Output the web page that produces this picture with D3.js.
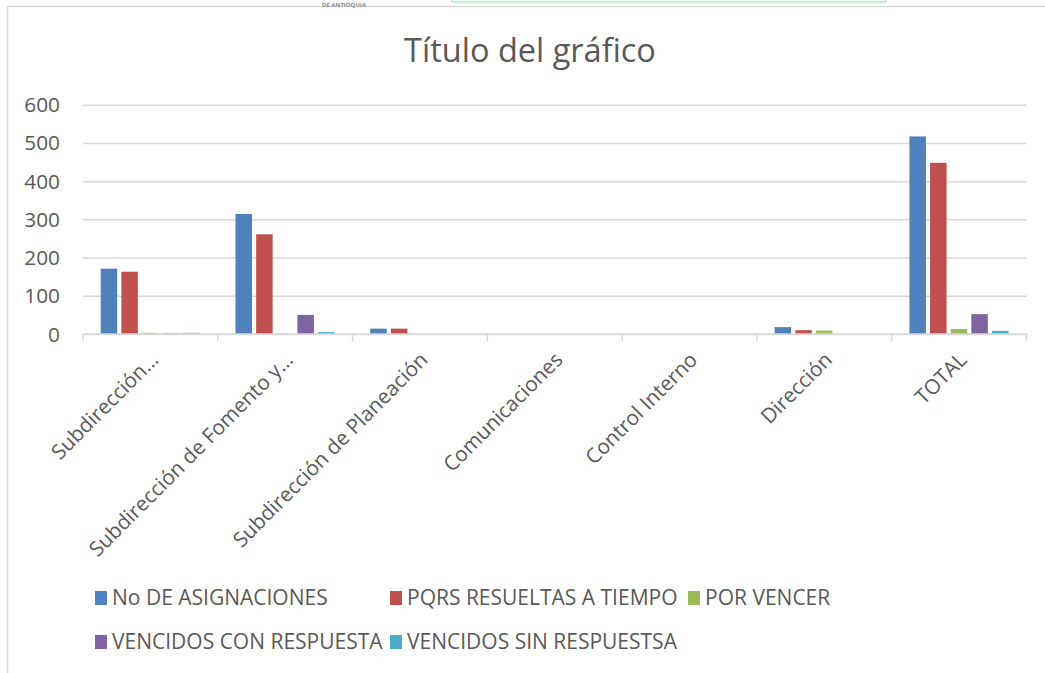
<!DOCTYPE html>
<html><head><meta charset="utf-8">
<script src="https://cdn.jsdelivr.net/npm/d3@7"></script>
<style>
html,body{margin:0;padding:0;background:#fff;}
svg{display:block;font-family:"Open Sans",sans-serif;}
</style></head>
<body>
<svg id="c" width="1045" height="673"></svg>
<script>
const categories = ["Subdirección…","Subdirección de Fomento y…","Subdirección de Planeación","Comunicaciones","Control Interno","Dirección","TOTAL"];
const seriesNames = ["No DE ASIGNACIONES","PQRS RESUELTAS A TIEMPO","POR VENCER","VENCIDOS CON RESPUESTA","VENCIDOS SIN RESPUESTSA"];
const asignaciones = [171,314,14,0,0,18,517];
const resueltas = [163,261,14,0,0,10,448];
const porVencer = [3,1,0,0,0,9,13];
const vencidosCon = [2,50,0,0,0,0,52];
const vencidosSin = [3,5,0,0,0,0,8];
const yTicks = [0,100,200,300,400,500,600];
const colors = ["#4F81BD","#C0504D","#9BBB59","#8064A2","#4BACC6"];
const seriesValues = [asignaciones,resueltas,porVencer,vencidosCon,vencidosSin];

(function(){
const svg = d3.select("#c");
const txt = "#595959", grid = "#d9d9d9";

// chart frame
svg.append("rect").attr("x",7.5).attr("y",6.5).attr("width",1100).attr("height",700)
  .attr("fill","#fff").attr("stroke",grid).attr("stroke-width",1.5);

// page remnants above chart
svg.append("rect").attr("x",452).attr("y",-4).attr("width",434).attr("height",6)
  .attr("fill","#eafaf0").attr("stroke","#9ee0b4").attr("stroke-width",1);
svg.append("text").attr("x",322).attr("y",6.5).attr("font-size",6).attr("font-weight","bold")
  .attr("fill","#888").text("DE ANTIOQUIA");

const pLeft = 83, pRight = 1026.5, pTop = 104.7, pBottom = 334;
const y = d3.scaleLinear().domain([0,600]).range([pBottom,pTop]);
const x0 = d3.scaleBand().domain(categories).range([pLeft,pRight]).padding(0);
const x1 = d3.scaleBand().domain(seriesNames).range([17.7, x0.bandwidth()-18]).paddingInner(0.2).paddingOuter(0);

// title
svg.append("text").attr("x",530).attr("y",62).attr("text-anchor","middle")
  .attr("font-size",32.5).attr("fill",txt).text("Título del gráfico");

// gridlines
const yAxis = d3.axisLeft(y).tickValues(yTicks).tickSize(-(pRight-pLeft)).tickPadding(23).tickFormat(d3.format("d"));
const gy = svg.append("g").attr("transform",`translate(${pLeft},0)`).call(yAxis);
gy.select(".domain").remove();
gy.selectAll(".tick line").attr("stroke",grid).attr("stroke-width",1.5);
gy.selectAll(".tick text").attr("fill",txt).attr("font-size",20.8).attr("font-family","Open Sans").attr("dy","0.34em");

// bars
const groups = svg.append("g").selectAll("g").data(categories).join("g")
  .attr("transform",d=>`translate(${x0(d)},0)`);
seriesNames.forEach((s,si)=>{
  groups.append("rect")
    .attr("x",x1(s))
    .attr("width",x1.bandwidth())
    .attr("y",(d,i)=>y(seriesValues[si][i]))
    .attr("height",(d,i)=>pBottom-y(seriesValues[si][i]))
    .attr("fill",colors[si]);
});

// x axis
const xAxisG = svg.append("g").attr("transform",`translate(0,${pBottom})`);
xAxisG.append("line").attr("x1",pLeft).attr("x2",pRight).attr("stroke",grid).attr("stroke-width",1.5);
const bounds = categories.map(c=>x0(c)).concat([pRight]);
xAxisG.selectAll("line.tk").data(bounds).join("line").attr("class","tk")
  .attr("x1",d=>d).attr("x2",d=>d).attr("y1",0).attr("y2",7).attr("stroke",grid).attr("stroke-width",1.5);
xAxisG.selectAll("text.cl").data(categories).join("text").attr("class","cl")
  .attr("transform",d=>`translate(${x0(d)+x0.bandwidth()/2+4},${22}) rotate(-45)`)
  .attr("text-anchor","end").attr("font-size",20.7).attr("fill",txt).attr("dy","0.35em").text(d=>d);

// legend
const legendPos = [[95,598],[390,598],[688,598],[95,642],[390,642]];
const lg = svg.append("g").selectAll("g").data(seriesNames).join("g")
  .attr("transform",(d,i)=>`translate(${legendPos[i][0]},${legendPos[i][1]})`);
lg.append("rect").attr("x",0).attr("y",-7).attr("width",12).attr("height",14).attr("fill",(d,i)=>colors[i]);
lg.append("text").attr("x",17).attr("y",0).attr("dy","0.35em").attr("font-size",21).attr("fill",txt).text(d=>d);
})();
</script>
</body></html>
